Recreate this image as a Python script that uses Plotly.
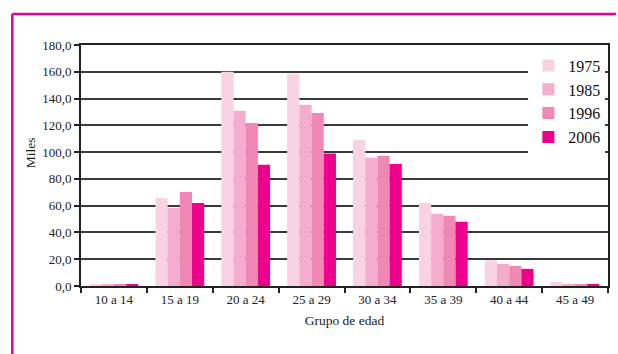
import plotly.graph_objects as go

# Grupos de edad y valores (miles)
grupos = ["10 a 14", "15 a 19", "20 a 24", "25 a 29", "30 a 34", "35 a 39", "40 a 44", "45 a 49"]
v1975 = [1.0, 65.8, 160.0, 158.5, 109.0, 62.0, 19.3, 3.0]
v1985 = [1.2, 58.5, 130.8, 135.3, 95.8, 54.0, 16.5, 1.5]
v1996 = [1.3, 70.3, 121.8, 129.3, 97.3, 52.5, 15.0, 1.5]
v2006 = [1.5, 62.0, 90.5, 99.0, 91.2, 48.0, 12.8, 1.6]

series = [("1975", v1975, "#F9D3E3"),
          ("1985", v1985, "#F4ADCC"),
          ("1996", v1996, "#F087B5"),
          ("2006", v2006, "#EC008C")]

W, H = 618, 354
ML, MR, MT, MB = 81, 8, 45, 68
pw, ph = W - ML - MR, H - MT - MB

fig = go.Figure()
for name, vals, color in series:
    fig.add_trace(go.Bar(x=grupos, y=vals, name=name, marker_color=color,
                         marker_line_width=0))

serif = "Liberation Serif, Times New Roman, DejaVu Serif, serif"

fig.update_layout(
    width=W, height=H,
    margin=dict(l=ML, r=MR, t=MT, b=MB),
    paper_bgcolor="white", plot_bgcolor="white",
    barmode="group", bargap=0.26, bargroupgap=0,
    font=dict(family=serif, size=13, color="#222"),
    separators=",.",
    showlegend=True,
    legend=dict(x=0.995, xanchor="right", y=0.985, yanchor="top",
                bgcolor="white", font=dict(family=serif, size=16, color="#111"),
                tracegroupgap=0, itemwidth=30),
)

fig.update_yaxes(range=[0, 180], dtick=20, tickformat=".1f",
                 showgrid=True, gridcolor="#3a3a3a", gridwidth=2,
                 showline=True, linecolor="#222", linewidth=2, mirror=True,
                 ticks="outside", ticklen=5, tickwidth=1.5, tickcolor="#222",
                 tickfont=dict(family=serif, size=13), zeroline=False)
fig.update_xaxes(showline=True, linecolor="#222", linewidth=2, mirror=True,
                 ticks="outside", ticklen=5, tickwidth=1.5, tickcolor="#222",
                 tickson="boundaries", tickfont=dict(family=serif, size=13),
                 title=dict(text="Grupo de edad", standoff=10,
                            font=dict(family=serif, size=13.5)))

fig.add_annotation(text="Miles", textangle=-90, xref="paper", yref="paper",
                   x=(30 - ML) / pw, y=(H - MB - 153) / ph, showarrow=False,
                   xanchor="center", yanchor="middle",
                   font=dict(family=serif, size=13.5, color="#222"))

# marco rosa
pink = "#EC008C"
x0 = (12 - ML) / pw
x1 = (W - ML) / pw
ytop = (H - MB - 14) / ph
ybot = (H - MB - H) / ph
fig.add_shape(type="line", xref="paper", yref="paper", x0=x0, x1=x1, y0=ytop, y1=ytop,
              line=dict(color=pink, width=2.5))
fig.add_shape(type="line", xref="paper", yref="paper", x0=x0, x1=x0, y0=ytop, y1=ybot,
              line=dict(color=pink, width=2.5))

fig.write_html("out.html", config={"displayModeBar": False},
               post_script="document.body.style.margin='0';document.body.style.overflow='hidden';")
